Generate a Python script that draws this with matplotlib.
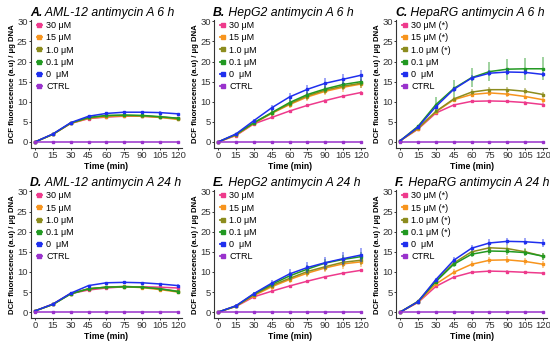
import numpy as np
import matplotlib
matplotlib.use('Agg')
import matplotlib.pyplot as plt
from matplotlib.lines import Line2D

plt.rcParams['font.family'] = ['Liberation Sans', 'DejaVu Sans']

time = [0, 15, 30, 45, 60, 75, 90, 105, 120]
doses = ['30 μM', '15 μM', '1.0 μM', '0.1 μM', '0  μM', 'CTRL']
colors = ['#ee3a8c', '#f7941d', '#8c8c1e', '#229922', '#1f2fee', '#9932cc']

letters = ['A.', 'B.', 'C.', 'D.', 'E.', 'F.']
titles = ['AML-12 antimycin A 6 h', 'HepG2 antimycin A 6 h', 'HepaRG antimycin A 6 h',
          'AML-12 antimycin A 24 h', 'HepG2 antimycin A 24 h', 'HepaRG antimycin A 24 h']
# which doses get an asterisk in each panel
stars = [[], [], [0, 1, 2], [], [], [0, 1, 2, 3]]

ctrl = [0, 0, 0, 0, 0, 0, 0, 0, 0]

# A. AML-12 6 h
a_30 = [0, 1.9, 4.6, 5.8, 6.2, 6.4, 6.4, 6.2, 5.9]
a_15 = [0, 1.9, 4.6, 5.9, 6.3, 6.5, 6.4, 6.1, 5.6]
a_1 = [0, 1.9, 4.7, 6.0, 6.5, 6.6, 6.5, 6.2, 5.8]
a_01 = [0, 1.9, 4.7, 6.1, 6.6, 6.7, 6.6, 6.3, 5.9]
a_0 = [0, 2.0, 4.8, 6.4, 7.1, 7.4, 7.4, 7.3, 7.0]
# B. HepG2 6 h
b_30 = [0, 1.6, 4.5, 6.1, 7.7, 9.1, 10.3, 11.4, 12.3]
b_15 = [0, 1.7, 4.6, 7.1, 9.3, 11.2, 12.6, 13.6, 14.4]
b_1 = [0, 1.8, 4.7, 7.2, 9.5, 11.5, 12.9, 13.9, 14.6]
b_01 = [0, 1.9, 4.8, 7.3, 9.8, 11.8, 13.2, 14.3, 15.0]
b_0 = [0, 2.0, 5.3, 8.5, 11.2, 13.1, 14.6, 15.6, 16.6]
# C. HepaRG 6 h
c_30 = [0.3, 3.2, 7.2, 9.2, 10.1, 10.2, 10.1, 9.8, 9.3]
c_15 = [0.3, 3.3, 7.5, 10.5, 11.8, 12.2, 11.9, 11.3, 10.5]
c_1 = [0.3, 3.4, 7.6, 10.7, 12.4, 13.0, 13.0, 12.6, 11.8]
c_01 = [0.3, 3.9, 9.3, 13.3, 16.0, 17.5, 18.1, 18.2, 18.2]
c_0 = [0.3, 3.7, 8.8, 13.1, 15.9, 17.1, 17.4, 17.3, 16.8]
# D. AML-12 24 h
d_30 = [0.3, 2.0, 4.6, 5.5, 6.0, 6.3, 6.3, 6.2, 6.0]
d_15 = [0.3, 1.9, 4.6, 5.8, 6.2, 6.3, 6.1, 5.6, 5.0]
d_1 = [0.3, 1.9, 4.6, 5.8, 6.2, 6.4, 6.2, 5.8, 5.2]
d_01 = [0.3, 1.9, 4.5, 5.8, 6.2, 6.3, 6.2, 5.8, 5.1]
d_0 = [0.3, 2.0, 4.7, 6.6, 7.3, 7.4, 7.3, 7.0, 6.6]
# E. HepG2 24 h
e_30 = [0, 1.4, 3.8, 5.2, 6.5, 7.7, 8.8, 9.7, 10.4]
e_15 = [0, 1.5, 4.1, 6.3, 8.1, 9.7, 11.0, 12.0, 12.5]
e_1 = [0, 1.5, 4.3, 6.6, 8.4, 10.1, 11.3, 12.4, 12.9]
e_01 = [0, 1.5, 4.5, 6.9, 9.0, 10.7, 12.2, 13.1, 13.8]
e_0 = [0, 1.6, 4.6, 7.2, 9.5, 11.1, 12.3, 13.3, 14.2]
# F. HepaRG 24 h
f_30 = [0, 2.4, 6.4, 8.7, 9.9, 10.2, 10.1, 9.9, 9.7]
f_15 = [0, 2.5, 7.0, 9.9, 11.9, 12.9, 13.0, 12.6, 11.9]
f_1 = [0, 2.7, 7.8, 12.2, 15.0, 16.0, 15.8, 15.0, 13.9]
f_01 = [0, 2.6, 7.6, 11.9, 14.4, 15.2, 15.1, 14.8, 13.9]
f_0 = [0, 2.6, 8.1, 12.9, 15.9, 17.2, 17.6, 17.5, 17.2]

panels = [[a_30, a_15, a_1, a_01, a_0, ctrl],
          [b_30, b_15, b_1, b_01, b_0, ctrl],
          [c_30, c_15, c_1, c_01, c_0, ctrl],
          [d_30, d_15, d_1, d_01, d_0, ctrl],
          [e_30, e_15, e_1, e_01, e_0, ctrl],
          [f_30, f_15, f_1, f_01, f_0, ctrl]]

# error bars (SD)
small = [0, 0.1, 0.2, 0.2, 0.3, 0.3, 0.3, 0.3, 0.3]
none = [0, 0, 0, 0, 0, 0, 0, 0, 0]
b_err0 = [0, 0.3, 0.4, 0.7, 1.0, 1.1, 1.2, 1.3, 1.4]
b_err1 = [0, 0.2, 0.4, 0.7, 0.9, 1.0, 1.0, 1.1, 1.1]
c_err01 = [0, 0.4, 1.8, 2.0, 2.3, 2.4, 2.6, 2.8, 2.9]
c_errm = [0, 0.3, 0.5, 0.6, 0.7, 0.7, 0.7, 0.7, 0.7]
e_err0 = [0, 0.3, 0.5, 0.9, 1.2, 1.4, 1.5, 1.6, 1.7]
e_err1 = [0, 0.2, 0.4, 0.7, 0.9, 1.0, 1.1, 1.2, 1.2]
f_errm = [0, 0.3, 0.5, 0.7, 0.8, 0.9, 0.9, 0.9, 0.9]
errs = [[small, small, small, small, small, none],
        [small, b_err1, b_err1, b_err1, b_err0, none],
        [small, c_errm, c_errm, c_err01, c_errm, none],
        [small, small, small, small, small, none],
        [small, e_err1, e_err1, e_err1, e_err0, none],
        [small, f_errm, f_errm, f_errm, f_errm, none]]

fig = plt.figure(figsize=(5.5, 3.41), dpi=100)
lefts = [0.056, 0.389, 0.72]
bottoms = [0.566, 0.067]
w, h = 0.275, 0.375

for k in range(6):
    r, c = divmod(k, 3)
    ax = fig.add_axes([lefts[c], bottoms[r], w, h])
    handles = []
    for i in range(6):
        y = panels[k][i]
        ax.errorbar(time, y, yerr=errs[k][i], fmt='none', ecolor=colors[i],
                    elinewidth=1.1, alpha=0.55, zorder=2 + i)
        ax.plot(time, y, color=colors[i], lw=1.1, marker='s', ms=1.6, zorder=3 + i)
        lab = doses[i] + (' (*)' if i in stars[k] else '')
        handles.append(Line2D([], [], color=colors[i], lw=1.3, marker='s', ms=2.2, label=lab))
    ax.set_xlim(-3.5, 123.5)
    ax.set_ylim(-1.5, 30.3)
    ax.set_xticks(time)
    ax.set_yticks([0, 5, 10, 15, 20, 25, 30])
    for s in ['top', 'right']:
        ax.spines[s].set_visible(False)
    for s in ['left', 'bottom']:
        ax.spines[s].set_color('#333333')
        ax.spines[s].set_linewidth(0.8)
    ax.tick_params(labelsize=6.8, colors='#333333', length=1.5, width=0.7, pad=0.8)
    ax.set_xlabel('Time (min)', fontsize=6.2, fontweight='bold', labelpad=1)
    ax.set_ylabel('DCF fluorescence (a.u) / μg DNA', fontsize=5.6, fontweight='bold', labelpad=1)
    t1 = ax.text(-0.005, 1.03, letters[k], transform=ax.transAxes, ha='left', va='baseline',
                 fontsize=8.8, fontstyle='italic', fontweight='bold')
    ax.annotate(' ' + titles[k], xy=(1, 0), xycoords=t1, ha='left', va='bottom',
                fontsize=8.8, fontstyle='italic')
    ax.legend(handles=handles, loc='upper left', bbox_to_anchor=(0.0, 1.04), frameon=False,
              fontsize=6.5, handlelength=0.5, handletextpad=0.5, labelspacing=0.35,
              borderaxespad=0.3)

plt.savefig('out.png', dpi=100)
